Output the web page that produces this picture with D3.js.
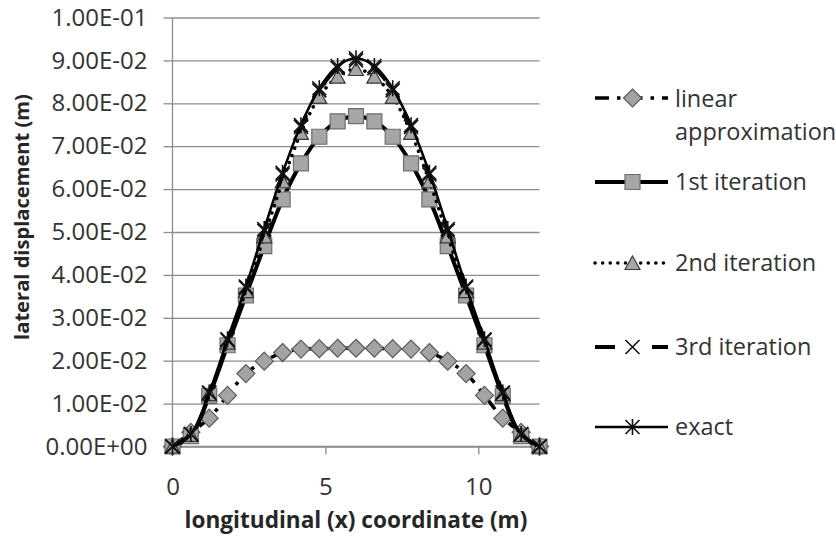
<!DOCTYPE html>
<html><head><meta charset="utf-8">
<script src="https://cdn.jsdelivr.net/npm/d3@7"></script>
<style>body{margin:0;background:#fff}svg{display:block}</style>
</head><body>
<svg id="c" width="836" height="540"></svg>
<script>
// ---- data ----
const xValues = [0, 0.6, 1.2, 1.8, 2.4, 3.0, 3.6, 4.2, 4.8, 5.4, 6.0, 6.6, 7.2, 7.8, 8.4, 9.0, 9.6, 10.2, 10.8, 11.4, 12];
const linearApprox = [0, 0.0033, 0.0066, 0.0119, 0.0170, 0.0199, 0.0219, 0.0227, 0.0228, 0.0229, 0.0229, 0.0229, 0.0228, 0.0227, 0.0219, 0.0199, 0.0170, 0.0119, 0.0066, 0.0033, 0];
const iteration1 = [0, 0.0024, 0.0118, 0.0236, 0.0352, 0.0467, 0.0576, 0.0660, 0.0722, 0.0758, 0.0770, 0.0758, 0.0722, 0.0660, 0.0576, 0.0467, 0.0352, 0.0236, 0.0118, 0.0024, 0];
const iteration2 = [0, 0.0027, 0.0122, 0.0242, 0.0362, 0.0490, 0.0618, 0.0731, 0.0815, 0.0862, 0.0880, 0.0862, 0.0815, 0.0731, 0.0618, 0.0490, 0.0362, 0.0242, 0.0122, 0.0027, 0];
const iteration3 = [0, 0.0029, 0.0125, 0.0248, 0.0370, 0.0503, 0.0634, 0.0745, 0.0830, 0.0882, 0.0900, 0.0882, 0.0830, 0.0745, 0.0634, 0.0503, 0.0370, 0.0248, 0.0125, 0.0029, 0];
const exactValues = [0, 0.0029, 0.0126, 0.0250, 0.0373, 0.0507, 0.0638, 0.0749, 0.0835, 0.0887, 0.0905, 0.0887, 0.0835, 0.0749, 0.0638, 0.0507, 0.0373, 0.0250, 0.0126, 0.0029, 0];
const seriesNames = ["linear approximation", "1st iteration", "2nd iteration", "3rd iteration", "exact"];
const yTicks = [0, 0.01, 0.02, 0.03, 0.04, 0.05, 0.06, 0.07, 0.08, 0.09, 0.1];
const xTicks = [0, 5, 10];
const xTitle = "longitudinal (x) coordinate (m)";
const yTitle = "lateral displacement (m)";

// ---- setup ----
const svg = d3.select("#c");
const X0 = 172.5, X1 = 539.5, Y0 = 446.5, Y1 = 17.5;
const x = d3.scaleLinear().domain([0, 12]).range([X0, X1]);
const y = d3.scaleLinear().domain([0, 0.1]).range([Y0, Y1]);
const FONT = "'Open Sans', 'Noto Sans', sans-serif";
const GRID = "#8c8c8c";

function expFmt(d) {
  const s = (+d.toFixed(6)).toExponential(2).split("e");
  const e = +s[1];
  return s[0] + "E" + (e < 0 ? "-" : "+") + String(Math.abs(e)).padStart(2, "0");
}

// gridlines
const grid = svg.append("g").attr("transform", `translate(${X0},0)`)
  .call(d3.axisLeft(y).tickValues(yTicks).tickSize(-(X1 - X0)).tickFormat(""));
grid.select(".domain").remove();
grid.selectAll("line").attr("stroke", GRID).attr("stroke-width", 1.3);

// y axis with outer ticks + labels
const yAx = svg.append("g").attr("transform", `translate(${X0},0)`)
  .call(d3.axisLeft(y).tickValues(yTicks).tickSize(9).tickPadding(16).tickFormat(expFmt));
yAx.select(".domain").attr("stroke", GRID).attr("stroke-width", 1.3).attr("d", `M0,${Y1}V${Y0}`);
yAx.selectAll(".tick line").attr("stroke", GRID).attr("stroke-width", 1.3);
yAx.selectAll("text").attr("font-family", FONT).attr("fill", "#333").attr("font-size", 21);

// x axis
const xAx = svg.append("g").attr("transform", `translate(0,${Y0})`)
  .call(d3.axisBottom(x).tickValues(xTicks).tickSize(8).tickFormat(d3.format("d")));
xAx.select(".domain").attr("stroke", GRID).attr("stroke-width", 1.3).attr("d", `M${X0},0H${X1}`);
xAx.selectAll(".tick line").attr("stroke", GRID).attr("stroke-width", 1.3);
xAx.selectAll("text").attr("font-family", FONT).attr("fill", "#333").attr("font-size", 21)
  .attr("y", 40).attr("dy", "0.35em");

// fit helper: adjust font-size so that text width matches target
function fitSize(sel, target) {
  const fs = parseFloat(sel.attr("font-size"));
  const w = sel.node().getComputedTextLength();
  const nfs = fs * target / w;
  sel.attr("font-size", nfs);
  return nfs;
}
const topLabel = yAx.selectAll("text").filter(d => d === 0.1);
const tickFs = fitSize(topLabel, 96);
yAx.selectAll("text").attr("font-size", tickFs);
xAx.selectAll("text").attr("font-size", tickFs);

// axis titles
const xt = svg.append("text").attr("x", (X0 + X1) / 2).attr("y", 528)
  .attr("text-anchor", "middle").attr("font-family", FONT).attr("font-weight", "bold")
  .attr("font-size", 20).attr("fill", "#262626").text(xTitle);
fitSize(xt, 343);
const yt = svg.append("text").attr("transform", "translate(29,217) rotate(-90)")
  .attr("text-anchor", "middle").attr("font-family", FONT).attr("font-weight", "bold")
  .attr("font-size", 20).attr("fill", "#262626").text(yTitle);
fitSize(yt, 246);

// ---- markers ----
function marker(g, type) {
  if (type === "diamond") {
    g.append("path").attr("d", "M0,-9L9,0L0,9L-9,0Z")
      .attr("fill", "#a3a3a3").attr("stroke", "#5a5a5a").attr("stroke-width", 1.2);
  } else if (type === "square") {
    g.append("path").attr("d", "M-7.5,-7.5H7.5V7.5H-7.5Z")
      .attr("fill", "#a6a6a6").attr("stroke", "#6e6e6e").attr("stroke-width", 1.2);
  } else if (type === "triangle") {
    g.append("path").attr("d", "M0,-7L7.5,6.5L-7.5,6.5Z")
      .attr("fill", "#a6a6a6").attr("stroke", "#3a3a3a").attr("stroke-width", 1.2);
  } else if (type === "x") {
    g.append("path").attr("d", "M-7,-7L7,7M-7,7L7,-7")
      .attr("fill", "none").attr("stroke", "#111").attr("stroke-width", 1.6);
  } else if (type === "star") {
    g.append("path").attr("d", "M-7,-7L7,7M-7,7L7,-7M0,-8V8")
      .attr("fill", "none").attr("stroke", "#111").attr("stroke-width", 1.6);
  }
}

const series = [
  { name: seriesNames[0], values: linearApprox, marker: "diamond", width: 3.5, dash: "14,8,3.5,8", cap: "butt" },
  { name: seriesNames[1], values: iteration1, marker: "square", width: 4, dash: null, cap: "butt" },
  { name: seriesNames[2], values: iteration2, marker: "triangle", width: 3.5, dash: "0.1,7.5", cap: "round" },
  { name: seriesNames[3], values: iteration3, marker: "x", width: 4, dash: "20,37", cap: "butt" },
  { name: seriesNames[4], values: exactValues, marker: "star", width: 2.5, dash: null, cap: "butt" }
];

const line = d3.line().x(d => x(d[0])).y(d => y(d[1])).curve(d3.curveCatmullRom);
const plot = svg.append("g");
series.forEach(s => {
  const pts = xValues.map((xv, i) => [xv, s.values[i]]);
  const g = plot.append("g");
  g.append("path").attr("d", line(pts)).attr("fill", "none").attr("stroke", "#000")
    .attr("stroke-width", s.width).attr("stroke-dasharray", s.dash).attr("stroke-linecap", s.cap);
  pts.forEach(p => {
    const m = g.append("g").attr("transform", `translate(${x(p[0])},${y(p[1])})`);
    marker(m, s.marker);
  });
});

// ---- legend ----
const legendY = [98, 182, 263, 347, 427];
const lg = svg.append("g");
const LX0 = 595, LX1 = 668, LM = 632.5, LT = 675;
let legFs = 21;
const legTexts = [];
series.forEach((s, i) => {
  const gy = legendY[i];
  const g = lg.append("g");
  g.append("path").attr("d", `M${LX0},${gy}H${LX1}`).attr("stroke", "#000")
    .attr("stroke-width", s.width).attr("stroke-dasharray", s.dash).attr("stroke-linecap", s.cap);
  marker(g.append("g").attr("transform", `translate(${LM},${gy})`), s.marker);
  if (i === 0) {
    const t = g.append("text").attr("font-family", FONT).attr("font-size", legFs).attr("fill", "#333");
    t.append("tspan").attr("x", LT).attr("y", 106.5).text("linear");
    t.append("tspan").attr("x", LT).attr("y", 140).text("approximation");
    legTexts.push(t);
  } else {
    const t = g.append("text").attr("x", LT).attr("y", gy).attr("dy", "0.36em")
      .attr("font-family", FONT).attr("font-size", legFs).attr("fill", "#333").text(s.name);
    legTexts.push(t);
  }
});
legFs = fitSize(legTexts[1], 132);
legTexts.forEach(t => t.attr("font-size", legFs));
</script>
</body></html>
